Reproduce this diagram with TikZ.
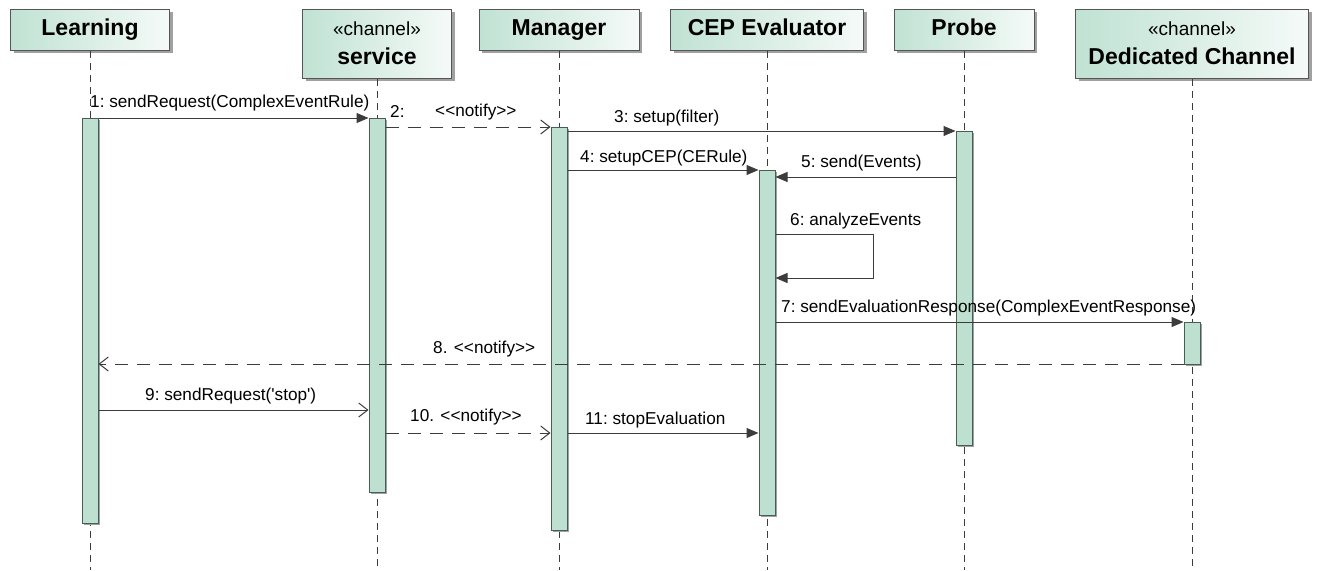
\documentclass[tikz,border=0pt]{standalone}
\usepackage{fontspec}
\setmainfont{Liberation Sans}[Ligatures=TeXOff]
\usetikzlibrary{arrows.meta,shadows}

\definecolor{hdrmint}{RGB}{192,226,211}
\definecolor{hdrlight}{RGB}{245,250,248}
\definecolor{barfill}{RGB}{190,224,209}
\definecolor{barline}{RGB}{70,95,85}
\definecolor{boxline}{RGB}{85,85,85}
\definecolor{shade}{RGB}{160,160,160}
\definecolor{ink}{RGB}{60,60,60}

\newcommand\stereotext{\fontsize{19}{22}\selectfont\mdseries}

\tikzset{
  header/.style={draw=boxline, line width=1pt, rectangle, inner sep=0pt,
    left color=hdrmint, right color=hdrlight,
    drop shadow={shadow xshift=3pt, shadow yshift=-3pt, fill=shade, opacity=1},
    font=\fontsize{23}{26}\selectfont\bfseries, align=center},
  onehead/.style={header, minimum height=41pt, text height=17pt, text depth=5pt},
  twohead/.style={header, minimum height=69pt},
  lifeline/.style={draw=ink, line width=1pt, dash pattern=on 7pt off 5pt},
  bar/.style={draw=barline, fill=barfill, line width=1pt, rectangle,
    minimum width=16pt, inner sep=0pt,
    drop shadow={shadow xshift=1.5pt, shadow yshift=-2pt, fill=shade, opacity=1}},
  msg/.style={draw=ink, line width=1pt, -{Triangle[length=12pt,width=10pt]}},
  msgopen/.style={draw=ink, line width=1pt, -{Straight Barb[length=9pt,width=14pt]}},
  reply/.style={msgopen, dash pattern=on 13pt off 9pt},
  lbl/.style={font=\fontsize{17.2}{20}\selectfont, text=black, inner sep=0pt, anchor=base west},
}

\begin{document}
\begin{tikzpicture}[x=1pt,y=-1pt]
  \useasboundingbox[fill=white] (0,0) rectangle (1319,570);

  % lifeline heads
  \node[onehead, minimum width=159pt] (hL) at (90,29.5) {Learning};
  \node[twohead, minimum width=149pt] (hS) at (377,43.5)
    {{\stereotext «channel»}\\[3pt]service};
  \node[onehead, minimum width=160pt] (hM) at (559,29.5) {Manager};
  \node[onehead, minimum width=193pt] (hC) at (767,29.5) {CEP Evaluator};
  \node[onehead, minimum width=140pt] (hP) at (964,29.5) {Probe};
  \node[twohead, minimum width=233pt] (hD) at (1192,43.5)
    {{\stereotext «channel»}\\[3pt]Dedicated Channel};

  % lifeline ends
  \coordinate (eL) at (90,570);
  \coordinate (eS) at (377,570);
  \coordinate (eM) at (559,570);
  \coordinate (eC) at (767,570);
  \coordinate (eP) at (964,570);
  \coordinate (eD) at (1192,570);

  \draw[lifeline] (hL.south) -- (eL);
  \draw[lifeline] (hS.south) -- (eS);
  \draw[lifeline] (hM.south) -- (eM);
  \draw[lifeline] (hC.south) -- (eC);
  \draw[lifeline] (hP.south) -- (eP);
  \draw[lifeline] (hD.south) -- (eD);

  % activation bars
  \node[bar, minimum height=405pt] (bL) at (90,320.5) {};
  \node[bar, minimum height=374pt] (bS) at (377,305) {};
  \node[bar, minimum height=403pt] (bM) at (559,328.5) {};
  \node[bar, minimum height=345pt] (bC) at (767,342.5) {};
  \node[bar, minimum height=314pt] (bP) at (964,288) {};
  \node[bar, minimum height=42pt]  (bD) at (1192,343) {};

  % 1
  \draw[msg] (bL.east |- 0,118) -- (bS.west |- 0,118);
  \node[lbl] (l1) at (90,107) {1:\ sendRequest(ComplexEventRule)};
  % 2
  \draw[reply] (bS.east |- 0,127) -- (bM.west |- 0,127);
  \node[lbl] (l2a) at (390,117) {2:};
  \node[lbl] (l2b) at (435,116) {<<notify>>};
  % 3
  \draw[msg] (bM.east |- 0,131) -- (bP.west |- 0,131);
  \node[lbl] (l3) at (614,122) {3:\ setup(filter)};
  % 4
  \draw[msg] (bM.east |- 0,170) -- (bC.west |- 0,170);
  \node[lbl] (l4) at (580,162) {4:\ setupCEP(CERule)};
  % 5
  \draw[msg] (bP.west |- 0,177) -- (bC.east |- 0,177);
  \node[lbl] (l5) at (801,167) {5:\ send(Events)};
  % 6 (self call)
  \coordinate (s6a) at (873,234);
  \coordinate (s6b) at (873,278);
  \draw[msg] (bC.east |- s6a) -- (s6a) -- (s6b) -- (bC.east |- s6b);
  \node[lbl] (l6) at (790,225) {6:\ analyzeEvents};
  % 7
  \draw[msg] (bC.east |- 0,322) -- (bD.west |- 0,322);
  \node[lbl] (l7) at (781,312) {7:\ sendEvaluationResponse(ComplexEventResponse)};
  % 8
  \draw[reply] (bD.west |- 0,364) -- (bL.east |- 0,364);
  \node[lbl] (l8) at (433,353) {8. <<notify>>};
  % 9
  \draw[msgopen] (bL.east |- 0,410) -- (bS.west |- 0,410);
  \node[lbl] (l9) at (145,400) {9:\ sendRequest('stop')};
  % 10
  \draw[reply] (bS.east |- 0,433) -- (bM.west |- 0,433);
  \node[lbl] (l10) at (410,421) {10. <<notify>>};
  % 11
  \draw[msg] (bM.east |- 0,433) -- (bC.west |- 0,433);
  \node[lbl] (l11) at (585,424) {11:\ stopEvaluation};
\end{tikzpicture}
\end{document}
